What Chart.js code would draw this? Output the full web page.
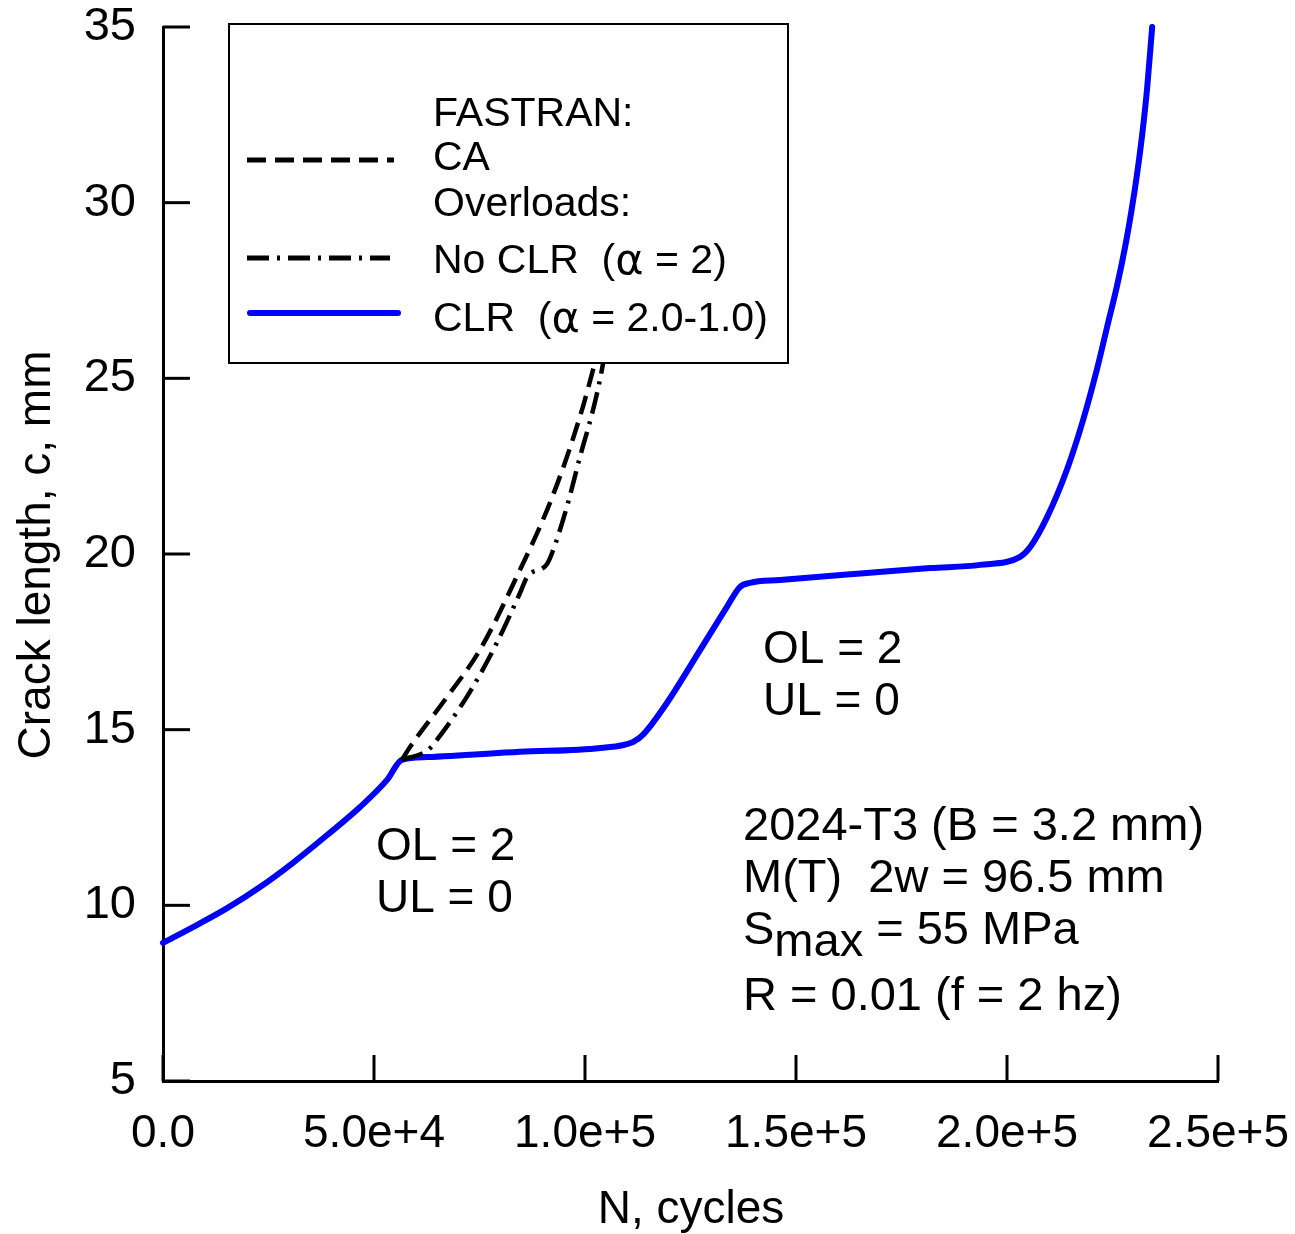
<!DOCTYPE html>
<html>
<head>
<meta charset="utf-8">
<title>Crack length vs cycles</title>
<script src="https://cdn.jsdelivr.net/npm/chart.js@4.4.0/dist/chart.umd.min.js"></script>
<style>
    html, body { margin: 0; padding: 0; background: #fff; }
    #wrap { width: 1295px; height: 1234px; }
</style>
</head>
<body>
<div id="wrap"><canvas id="crackChart" width="1295" height="1234"></canvas></div>
<script>
// values (N in cycles, c in mm)
const clrN = [0, 7100, 15200, 23000, 30800, 38900, 46700, 53100, 56600, 62600, 84600, 103600, 111400, 113700, 119400, 127300, 133600, 136700, 139100, 146200, 166800, 181800, 193600, 203100, 205500, 209500, 214200, 218000, 221300, 223700, 226100, 228000, 229600, 230800, 232000, 233200, 234400];
const clrC = [8.93, 9.38, 9.92, 10.52, 11.21, 12.0, 12.8, 13.57, 14.14, 14.22, 14.37, 14.48, 14.65, 14.85, 15.76, 17.27, 18.49, 19.06, 19.18, 19.26, 19.46, 19.6, 19.69, 19.92, 20.2, 21.05, 22.4, 23.8, 25.25, 26.45, 27.65, 28.75, 29.85, 30.8, 31.9, 33.25, 35.0];

const caN = [56600, 58500, 67300, 75100, 84600, 91000, 95700, 99500, 101900, 102700];
const caC = [14.14, 14.5, 15.93, 17.27, 19.55, 21.25, 22.76, 24.19, 25.24, 25.6];

const noClrN = [56600, 62800, 64900, 72700, 79100, 84600, 86300, 90900, 92200, 95700, 98800, 101900, 104000, 104500];
const noClrC = [14.14, 14.42, 14.71, 16.07, 17.47, 18.89, 19.35, 19.7, 20.03, 21.34, 22.76, 24.1, 25.24, 25.6];

const xTicks = [0, 50000, 100000, 150000, 200000, 250000];
const yTicks = [5, 10, 15, 20, 25, 30, 35];

const FONT = "'Liberation Sans', Arial, sans-serif";
const ALPHA_FONT = "'DejaVu Sans', sans-serif";

function toPoints(xs, ys) {
    return xs.map((x, i) => ({ x: x, y: ys[i] }));
}

// draws text pieces one after another, each with its own font
function drawRun(ctx, parts, x, y) {
    parts.forEach(p => {
        ctx.font = p.font;
        ctx.fillText(p.text, x, y + (p.dy || 0));
        x += ctx.measureText(p.text).width;
    });
}

// inner tick marks, legend box and the text notes
const overlayPlugin = {
    id: 'overlay',
    afterDatasetsDraw(chart) {
        const ctx = chart.ctx;
        const xs = chart.scales.x;
        const ys = chart.scales.y;
        const area = chart.chartArea;

        ctx.save();
        ctx.strokeStyle = '#000';
        ctx.lineWidth = 3;
        ctx.setLineDash([]);
        yTicks.forEach(v => {
            const py = ys.getPixelForValue(v);
            ctx.beginPath();
            ctx.moveTo(area.left, py);
            ctx.lineTo(area.left + 27, py);
            ctx.stroke();
        });
        xTicks.forEach(v => {
            const px = xs.getPixelForValue(v);
            ctx.beginPath();
            ctx.moveTo(px, area.bottom);
            ctx.lineTo(px, area.bottom - 26);
            ctx.stroke();
        });

        // legend box
        ctx.fillStyle = '#fff';
        ctx.fillRect(229, 24, 559, 339);
        ctx.lineWidth = 2;
        ctx.strokeRect(229, 24, 559, 339);

        ctx.lineWidth = 5;
        ctx.setLineDash([19, 9]);
        ctx.beginPath();
        ctx.moveTo(247, 160);
        ctx.lineTo(394, 160);
        ctx.stroke();

        ctx.setLineDash([22, 8, 3, 8]);
        ctx.beginPath();
        ctx.moveTo(247, 258);
        ctx.lineTo(390, 258);
        ctx.stroke();

        ctx.setLineDash([]);
        ctx.strokeStyle = '#0000ff';
        ctx.lineWidth = 6;
        ctx.lineCap = 'round';
        ctx.beginPath();
        ctx.moveTo(250, 313);
        ctx.lineTo(398, 313);
        ctx.stroke();

        ctx.fillStyle = '#000';
        ctx.textAlign = 'left';
        ctx.textBaseline = 'middle';
        const lf = '41px ' + FONT;
        const af = '43px ' + ALPHA_FONT;
        ctx.font = lf;
        ctx.fillText('FASTRAN:', 433, 115);
        ctx.fillText('CA', 433, 159);
        ctx.fillText('Overloads:', 433, 205);
        drawRun(ctx, [
            { text: 'No CLR  (', font: lf },
            { text: '\u03b1', font: af, dy: 1 },
            { text: ' = 2)', font: lf }
        ], 433, 262);
        drawRun(ctx, [
            { text: 'CLR  (', font: lf },
            { text: '\u03b1', font: af, dy: 1 },
            { text: ' = 2.0-1.0)', font: lf }
        ], 433, 320);

        ctx.font = '46px ' + FONT;
        ctx.fillText('OL = 2', 376, 847);
        ctx.fillText('UL = 0', 376, 899);
        ctx.fillText('OL = 2', 763, 650);
        ctx.fillText('UL = 0', 763, 702);

        const nf = '47px ' + FONT;
        ctx.font = nf;
        ctx.fillText('2024-T3 (B = 3.2 mm)', 743, 827);
        ctx.fillText('M(T)  2w = 96.5 mm', 743, 879);
        drawRun(ctx, [
            { text: 'S', font: nf },
            { text: 'max', font: nf, dy: 12 },
            { text: ' = 55 MPa', font: nf }
        ], 743, 931);
        ctx.font = nf;
        ctx.fillText('R = 0.01 (f = 2 hz)', 743, 997);

        // axis titles
        ctx.font = '46px ' + FONT;
        ctx.textAlign = 'center';
        ctx.fillText('N, cycles', 691, 1210);
        ctx.translate(37, 555);
        ctx.rotate(-Math.PI / 2);
        ctx.fillText('Crack length, c, mm', 0, 0);
        ctx.restore();
    }
};

function initChart() {
    const ctx = document.getElementById('crackChart').getContext('2d');

    new Chart(ctx, {
        type: 'line',
        data: {
            datasets: [
                {
                    label: 'CA',
                    data: toPoints(caN, caC),
                    borderColor: '#000',
                    borderWidth: 4.5,
                    borderDash: [19, 9],
                    cubicInterpolationMode: 'monotone',
                    pointRadius: 0,
                    fill: false
                },
                {
                    label: 'No CLR',
                    data: toPoints(noClrN, noClrC),
                    borderColor: '#000',
                    borderWidth: 4.5,
                    borderDash: [22, 8, 3, 8],
                    cubicInterpolationMode: 'monotone',
                    pointRadius: 0,
                    fill: false
                },
                {
                    label: 'CLR',
                    data: toPoints(clrN, clrC),
                    borderColor: '#0000ff',
                    borderWidth: 6,
                    borderCapStyle: 'round',
                    borderJoinStyle: 'round',
                    cubicInterpolationMode: 'monotone',
                    pointRadius: 0,
                    fill: false,
                    clip: false
                }
            ]
        },
        options: {
            responsive: false,
            animation: false,
            layout: {
                padding: { left: 0, top: 27, right: 77, bottom: 0 }
            },
            plugins: {
                legend: { display: false },
                tooltip: { enabled: false }
            },
            scales: {
                x: {
                    type: 'linear',
                    min: 0,
                    max: 250000,
                    grid: { display: false, drawTicks: false },
                    border: { display: true, color: '#000', width: 3 },
                    ticks: {
                        stepSize: 50000,
                        padding: 26,
                        color: '#000',
                        font: { family: FONT, size: 46 },
                        maxRotation: 0,
                        callback: v => (v === 0 ? '0.0' : Number(v).toExponential(1))
                    },
                    afterFit: s => {
                        s.height = 153;
                        s.paddingLeft = 0;
                        s.paddingRight = 0;
                    }
                },
                y: {
                    type: 'linear',
                    min: 5,
                    max: 35,
                    grid: { display: false, drawTicks: false },
                    border: { display: true, color: '#000', width: 3 },
                    ticks: {
                        stepSize: 5,
                        padding: 27,
                        color: '#000',
                        font: { family: FONT, size: 47 }
                    },
                    afterFit: s => {
                        s.width = 163;
                        s.paddingTop = 0;
                        s.paddingBottom = 0;
                    }
                }
            }
        },
        plugins: [overlayPlugin]
    });
}

document.addEventListener('DOMContentLoaded', initChart);
</script>
</body>
</html>
